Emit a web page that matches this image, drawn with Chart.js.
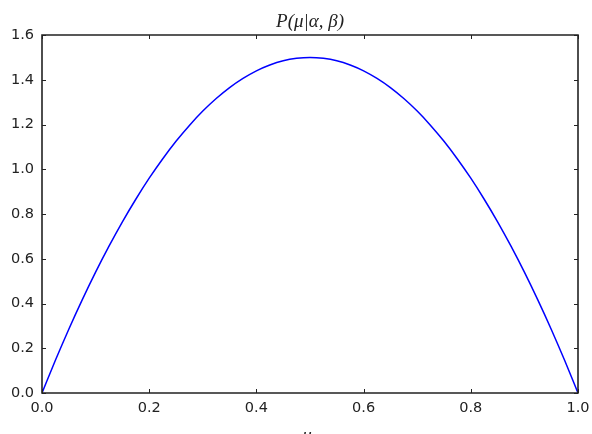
<!DOCTYPE html>
<html><head><meta charset="utf-8">
<script src="https://cdn.jsdelivr.net/npm/chart.js@4/dist/chart.umd.min.js"></script>
<style>html,body{margin:0;padding:0;background:#fff}#wrap{width:592px;height:434px}</style>
</head><body><div id="wrap"><canvas id="c" width="592" height="434"></canvas></div>
<script>
const muValues = [0,0.025,0.05,0.075,0.1,0.125,0.15,0.175,0.2,0.225,0.25,0.275,0.3,0.325,0.35,0.375,0.4,0.425,0.45,0.475,0.5,
                  0.525,0.55,0.575,0.6,0.625,0.65,0.675,0.7,0.725,0.75,0.775,0.8,0.825,0.85,0.875,0.9,0.925,0.95,0.975,1.0];
const density = [0,0.146,0.285,0.416,0.54,0.656,0.765,0.866,0.96,1.046,1.125,1.196,1.26,1.316,1.365,1.406,1.44,1.466,1.485,1.496,1.5,
                 1.496,1.485,1.466,1.44,1.406,1.365,1.316,1.26,1.196,1.125,1.046,0.96,0.866,0.765,0.656,0.54,0.416,0.285,0.146,0];
const xTicks = [0,0.2,0.4,0.6,0.8,1.0];
const yTicks = [0,0.2,0.4,0.6,0.8,1.0,1.2,1.4,1.6];
const titleText = 'P(\u03BC|\u03B1, \u03B2)';
const xLabel = '\u03BC';

const framePlugin = {
  id:'frame',
  afterDatasetsDraw(chart){
    const {ctx, chartArea:a, scales:{x,y}} = chart;
    ctx.save();
    ctx.strokeStyle='#222'; ctx.lineWidth=1.6;
    ctx.beginPath();
    ctx.rect(a.left, a.top, a.right-a.left, a.bottom-a.top);
    ctx.stroke();
    ctx.lineWidth=1;
    ctx.beginPath();
    const L=4;
    xTicks.forEach(v=>{const px=Math.round(x.getPixelForValue(v))+0.5;
      ctx.moveTo(px,a.bottom);ctx.lineTo(px,a.bottom-L);
      ctx.moveTo(px,a.top);ctx.lineTo(px,a.top+L);});
    yTicks.forEach(v=>{const py=Math.round(y.getPixelForValue(v))+0.5;
      ctx.moveTo(a.left,py);ctx.lineTo(a.left+L,py);
      ctx.moveTo(a.right,py);ctx.lineTo(a.right-L,py);});
    ctx.stroke();
    ctx.fillStyle='#222';
    ctx.textAlign='center'; ctx.textBaseline='alphabetic';
    ctx.font='italic 19px "Liberation Serif", "DejaVu Serif", serif';
    ctx.fillText(titleText,(a.left+a.right)/2,27);
    ctx.fillText(xLabel,(a.left+a.right)/2-3,441);
    ctx.restore();
  }
};

new Chart(document.getElementById('c'),{
  type:'line',
  data:{datasets:[{data:muValues.map((m,i)=>({x:m,y:density[i]})),borderColor:'#0000ff',borderWidth:1.5,pointRadius:0,fill:false,cubicInterpolationMode:'monotone'}]},
  options:{
    responsive:false,animation:false,
    layout:{padding:{left:0,right:14,top:35,bottom:0}},
    plugins:{legend:{display:false},tooltip:{enabled:false},title:{display:false}},
    scales:{
      x:{type:'linear',min:0,max:1,
        afterFit(s){s.height=41;s.paddingLeft=0;s.paddingRight=0;},
        afterBuildTicks(s){s.ticks=xTicks.map(v=>({value:v}));},
        grid:{display:false,drawTicks:false},border:{display:false},
        ticks:{padding:7,color:'#222',font:{family:'"DejaVu Sans"',size:14.5},callback:v=>v.toFixed(1),maxRotation:0}},
      y:{type:'linear',min:0,max:1.6,
        afterFit(s){s.width=42;s.paddingTop=0;s.paddingBottom=0;},
        afterBuildTicks(s){s.ticks=yTicks.map(v=>({value:v}));},
        grid:{display:false,drawTicks:false},border:{display:false},
        ticks:{padding:8,color:'#222',font:{family:'"DejaVu Sans"',size:14.5},callback:v=>v.toFixed(1)}}
    }
  },
  plugins:[framePlugin]
});
</script></body></html>
